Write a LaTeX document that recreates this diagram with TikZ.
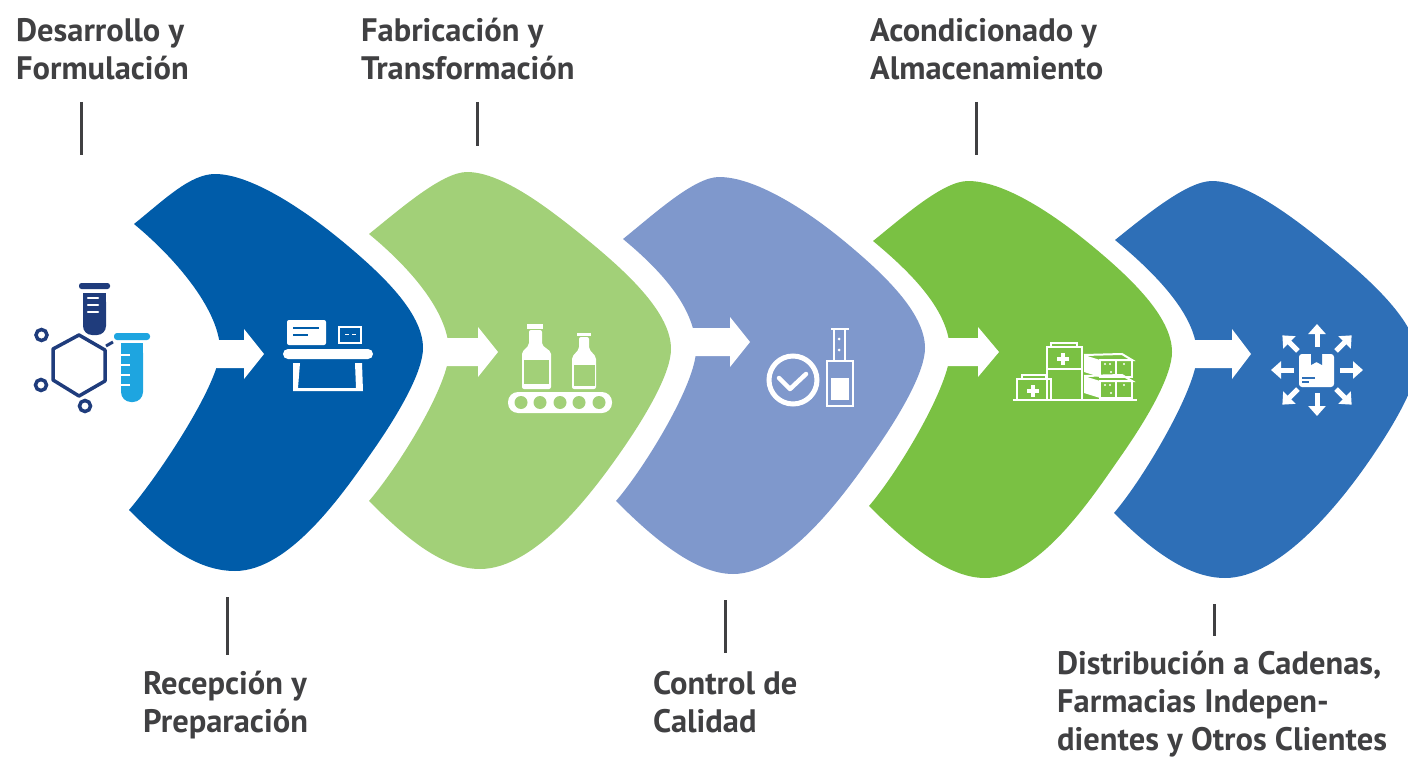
\documentclass[tikz,border=0pt]{standalone}
\usepackage{fontspec}
\setmainfont{PT Sans}
\usetikzlibrary{calc}
\usetikzlibrary{arrows.meta}
\definecolor{azul}{HTML}{005CA9}
\definecolor{verdeclaro}{HTML}{A2D078}
\definecolor{lila}{HTML}{7F98CC}
\definecolor{verde}{HTML}{7AC143}
\definecolor{azulmedio}{HTML}{2E6FB7}
\definecolor{marino}{HTML}{1F3C7C}
\definecolor{celeste}{HTML}{1EA5E0}
\definecolor{texto}{HTML}{404042}
\tikzset{
    etiqueta/.style={anchor=north west,inner sep=0pt,align=left,text=texto,
        font=\fontsize{32.5}{38}\selectfont\bfseries},
    raya/.style={draw=texto,line width=3pt},
    icono/.style={draw=white,line width=2.5pt},
    relleno/.style={fill=white,rounded corners=2pt},
    flecha/.style={draw=white,line width=5pt,-{Triangle[length=10pt,width=17pt]}},
}
% leaf: colour, left top, top, tip, bottom, left bottom, notch
\newcommand{\leaf}[7]{
    \fill[#1] #2 .. controls +(30,-24) and +(-25,0) .. #3
        .. controls +(35,0) and +(-40,-33) .. ($#4+(-81,-107)$)
        .. controls +(40,33) and +(0,-35) .. #4
        .. controls +(0,23) and +(28,-40) .. ($#4+(-51,104)$)
        .. controls +(-28,40) and +(55,0) .. #5
        .. controls +(-40,0) and +(32,32) .. #6
        .. controls +(30,-35) and +(0,33) .. #7
        .. controls +(0,-37) and +(46,38) .. cycle;
}
% blockarrow: stem start, head base, tip x, centre y
\newcommand{\blockarrow}[4]{
    \fill[white] (#1,#4-14) -- (#2,#4-14) -- (#2,#4-25) -- (#3,#4)
        -- (#2,#4+25) -- (#2,#4+14) -- (#1,#4+14) -- cycle;
}
\newcommand{\plusmark}[2]{
    \draw[white,line width=3.5pt] (#1-6,#2) -- (#1+6,#2) (#1,#2-6) -- (#1,#2+6);
}
\begin{document}
\begin{tikzpicture}[x=1pt,y=-1pt]
    \useasboundingbox (0,0) rectangle (1408,757);
    \clip (0,0) rectangle (1408,757);
    % the five leaves
    \leaf{azul}{(134,224)}{(215,174)}{(423,348)}{(235,571)}{(129,510)}{(220,350)}
    \leaf{verdeclaro}{(369,234)}{(467,172)}{(671,349)}{(480,569)}{(369,501)}{(449,352)}
    \leaf{lila}{(623,239)}{(719,177)}{(925,348)}{(733,574)}{(616,501)}{(696,350)}
    \leaf{verde}{(873,241)}{(968,181)}{(1172,352)}{(985,578)}{(869,506)}{(950,352)}
    \leaf{azulmedio}{(1115,240)}{(1212,181)}{(1418,360)}{(1225,578)}{(1114,513)}{(1197,355)}
    % arrows between the leaves
    \blockarrow{205}{244}{264}{354}
    \blockarrow{440}{478}{498}{352}
    \blockarrow{685}{730}{750}{342}
    \blockarrow{940}{978}{999}{352}
    \blockarrow{1185}{1232}{1251}{354}
    % labels
    \node[etiqueta] (desarrollo) at (16,18) {Desarrollo y\\Formulación};
    \node[etiqueta] (fabricacion) at (361,18) {Fabricación y\\Transformación};
    \node[etiqueta] (acondicionado) at (870,18) {Acondicionado y\\Almacenamiento};
    \node[etiqueta] (recepcion) at (143,671) {Recepción y\\Preparación};
    \node[etiqueta] (control) at (653,671) {Control de\\Calidad};
    \node[etiqueta] (distribucion) at (1057,650.5) {Distribución a Cadenas,\\Farmacias Indepen-\\dientes y Otros Clientes};
    % ticks
    \coordinate (d1) at (81,102);
    \coordinate (d2) at (81,155);
    \coordinate (f1) at (477,102);
    \coordinate (f2) at (477,146);
    \coordinate (a1) at (976,102);
    \coordinate (a2) at (976,155);
    \coordinate (r1) at (227,597);
    \coordinate (r2) at (227,655);
    \coordinate (c1) at (725,600);
    \coordinate (c2) at (725,653);
    \coordinate (t1) at (1214,604);
    \coordinate (t2) at (1214,636);
    \draw[raya] (d1) -- (d2);
    \draw[raya] (f1) -- (f2);
    \draw[raya] (a1) -- (a2);
    \draw[raya] (r1) -- (r2);
    \draw[raya] (c1) -- (c2);
    \draw[raya] (t1) -- (t2);
    % lab icon
    \fill[marino,rounded corners=2.5pt] (79,283) rectangle (110,289);
    \fill[marino,rounded corners=9pt] (83,293) -- (106,293) -- (106,335) -- (83,335) -- cycle;
    \fill[marino] (83,293) rectangle (106,310);
    \draw[white,line width=2.5pt,line cap=round] (88,298) -- (98,298) (88,305) -- (98,305) (88,312) -- (98,312);
    \draw[marino,line width=3.5pt,line join=round] (79,335) -- (105,350) -- (105,381) -- (79,396) -- (53,380) -- (53,349) -- cycle;
    \draw[marino,line width=3pt] (106,346) -- (113,342);
    \draw[marino,line width=3.5pt] (41.5,335) circle (5.5);
    \draw[marino,line width=3.5pt] (41,385) circle (5.5);
    \draw[marino,line width=3.5pt] (85,406) circle (5.5);
    \fill[celeste,rounded corners=3pt] (114,333) rectangle (150,340);
    \fill[celeste,rounded corners=10pt] (121,343) -- (143,343) -- (143,402) -- (121,402) -- cycle;
    \fill[celeste] (121,343) rectangle (143,370);
    \foreach \y in {355,365,375,385}
        \draw[white,line width=2pt] (120,\y) -- (130,\y);
    % reception icon
    \fill[relleno] (287,320) rectangle (326,345);
    \draw[azul,line width=2.5pt] (293,328) -- (319,328) (293,335) -- (308,335);
    \draw[white,line width=2.5pt,fill=azul] (339,327) rectangle (361,343);
    \draw[white,line width=1.5pt] (345,334.5) -- (349,334.5) (352,334.5) -- (356,334.5);
    \fill[white,rounded corners=5pt] (283,349) rectangle (373,359);
    \fill[white] (293,363) -- (300,363) -- (298,388) -- (356,388) -- (355,363) -- (362,363) -- (363,391) -- (293,391) -- cycle;
    % bottling icon
    \fill[white] (527,324) rectangle (543,329);
    \fill[relleno] (529,330) -- (542,330) -- (542,345) -- (551,352) -- (551,389) -- (522,389) -- (522,352) -- (529,345) -- cycle;
    \fill[verdeclaro] (524,360) rectangle (549,384);
    \fill[white] (577,333) rectangle (591,336);
    \fill[relleno] (579,337) -- (589,337) -- (589,349) -- (596,357) -- (596,389) -- (572,389) -- (572,357) -- (579,349) -- cycle;
    \fill[verdeclaro] (574,365) rectangle (595,386);
    \fill[white,rounded corners=10pt] (508,392) rectangle (612,413);
    \foreach \x in {521,540,560,579,599}
        \fill[verdeclaro] (\x,402.5) circle (6.5);
    % quality icon
    \draw[white,line width=5pt] (793,380) circle (24);
    \draw[white,line width=4.5pt,line cap=round,line join=round] (779,378) -- (790,389) -- (806,374);
    \draw[white,line width=2pt] (831,329) -- (849,329);
    \draw[white,line width=2pt] (834,329) -- (834,361) (845,329) -- (845,361);
    \fill[white] (839,339) circle (1.5) (839,350) circle (1.5);
    \draw[white,line width=2.5pt] (827,361) rectangle (853,406);
    \fill[white] (831,378) rectangle (849,400);
    % storage icon
    \draw[white,line width=2.5pt] (1013,400) -- (1137,400);
    \draw[icono] (1017,400) -- (1017,379) -- (1051,379) -- (1051,400);
    \draw[icono] (1022,379) -- (1022,375) -- (1046,375) -- (1046,379);
    \plusmark{1033}{391}
    \draw[icono] (1047,400) -- (1047,347) -- (1082,347) -- (1082,400);
    \draw[icono] (1047,369) -- (1082,369);
    \draw[icono] (1051,347) -- (1051,343) -- (1077,343) -- (1077,347);
    \plusmark{1063}{359}
    \foreach \y in {0,21}{
        \fill[white] (1084,355+\y) -- (1100,360+\y) -- (1100,377+\y) -- (1084,372+\y) -- cycle;
        \draw[white,line width=2pt] (1084,355+\y) -- (1122,354+\y) -- (1132,360+\y) -- (1100,360+\y);
        \draw[white,line width=2pt] (1100,360+\y) rectangle (1132,377+\y);
        \draw[white,line width=2pt] (1116,360+\y) -- (1116,377+\y);
        \fill[white] (1105,364+\y) circle (1.2) (1110,364+\y) circle (1.2) (1111,372+\y) circle (1.2) (1124,364+\y) circle (1.2);
    }
    % distribution icon
    \fill[white,rounded corners=3pt] (1299,354) rectangle (1334,387);
    \fill[azulmedio] (1311,354) -- (1322,354) -- (1322,365) -- (1316.5,362) -- (1311,365) -- cycle;
    \draw[azulmedio,line width=1.5pt] (1302,378) -- (1315,378) (1302,382) -- (1309,382);
    \foreach \a in {0,90,180,270}
        \draw[flecha] ($(1317,370)+(\a:23)$) -- ($(1317,370)+(\a:46)$);
    \foreach \a in {45,135,225,315}
        \draw[flecha] ($(1317,370)+(\a:27)$) -- ($(1317,370)+(\a:49)$);
\end{tikzpicture}
\end{document}
